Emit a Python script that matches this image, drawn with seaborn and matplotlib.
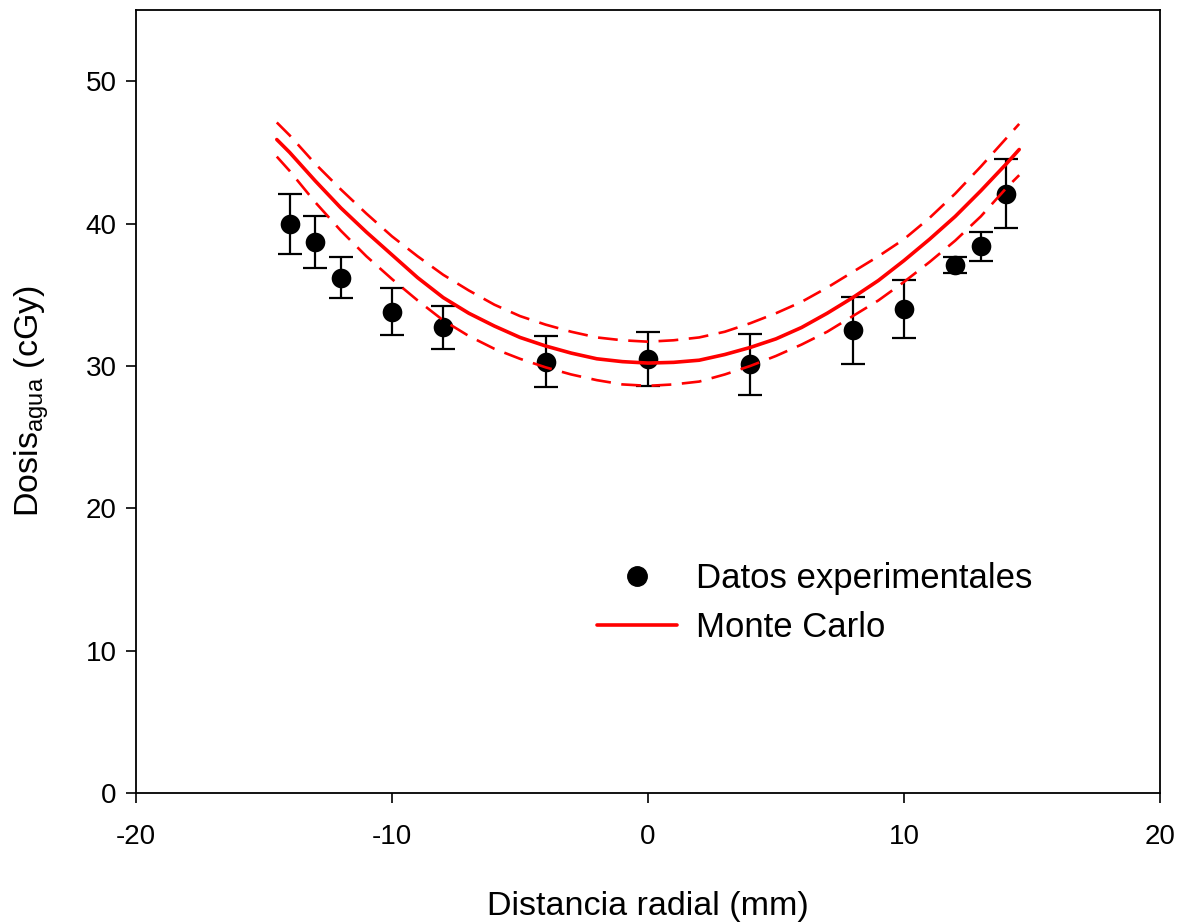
import numpy as np
import pandas as pd
import matplotlib
matplotlib.use("Agg")
import matplotlib.pyplot as plt
from matplotlib.lines import Line2D
import seaborn as sns

# experimental points (distance mm, dose cGy, error)
exp_x = [-14, -13, -12, -10, -8, -4, 0, 4, 8, 10, 12, 13, 14]
exp_y = [39.95, 38.7, 36.2, 33.8, 32.7, 30.3, 30.5, 30.1, 32.5, 34.0, 37.1, 38.4, 42.1]
exp_err = [2.1, 1.85, 1.45, 1.65, 1.5, 1.8, 1.9, 2.15, 2.35, 2.05, 0.55, 1.0, 2.4]

# Monte Carlo curve and its uncertainty band, read every 1 mm
mc_x = [-14.5, -14, -13, -12, -11, -10, -9, -8, -7, -6, -5, -4, -3, -2, -1, 0,
        1, 2, 3, 4, 5, 6, 7, 8, 9, 10, 11, 12, 13, 14, 14.5]
mc_y = [45.9, 45.0, 43.0, 41.1, 39.4, 37.8, 36.2, 34.8, 33.7, 32.8, 32.0, 31.4, 30.9, 30.5, 30.3, 30.2,
        30.25, 30.4, 30.8, 31.3, 31.9, 32.7, 33.7, 34.8, 36.0, 37.4, 38.9, 40.5, 42.3, 44.2, 45.2]
mc_up = [47.1, 46.2, 44.2, 42.4, 40.7, 39.1, 37.7, 36.4, 35.3, 34.3, 33.5, 32.9, 32.4, 32.0, 31.8, 31.7,
         31.8, 32.0, 32.4, 33.0, 33.7, 34.5, 35.5, 36.6, 37.7, 38.9, 40.4, 42.1, 44.0, 46.0, 47.0]
mc_low = [44.7, 43.7, 41.5, 39.5, 37.7, 36.1, 34.6, 33.2, 32.1, 31.2, 30.5, 29.9, 29.4, 29.0, 28.7, 28.6,
          28.7, 28.9, 29.4, 30.0, 30.7, 31.5, 32.4, 33.5, 34.6, 35.9, 37.3, 38.8, 40.5, 42.5, 43.4]

sns.set_style("ticks")
plt.rcParams['font.family'] = ['Liberation Sans', 'DejaVu Sans']
plt.rcParams['axes.unicode_minus'] = False
for k in ['text.color', 'axes.labelcolor', 'xtick.color', 'ytick.color', 'axes.edgecolor']:
    plt.rcParams[k] = 'black'

fig = plt.figure(figsize=(11.85, 9.23), dpi=100)
ax = fig.add_axes([136 / 1185, 1 - 793 / 923, 1024 / 1185, 783 / 923])

df_exp = pd.DataFrame({"x": exp_x, "y": exp_y, "err": exp_err})
df_mc = pd.DataFrame({"x": mc_x, "y": mc_y, "up": mc_up, "low": mc_low})

ax.errorbar(df_exp["x"], df_exp["y"], yerr=df_exp["err"], fmt="none",
            ecolor="black", elinewidth=1.6, capsize=8.5, capthick=1.6, zorder=2)
sns.scatterplot(data=df_exp, x="x", y="y", ax=ax, color="black", s=200,
                edgecolor="black", linewidth=0, zorder=3, legend=False)

sns.lineplot(data=df_mc, x="x", y="y", ax=ax, color="red", linewidth=2.6,
             sort=False, zorder=4)
for col in ["up", "low"]:
    sns.lineplot(data=df_mc, x="x", y=col, ax=ax, color="red", linewidth=1.9,
                 sort=False, zorder=4)
for line in ax.get_lines()[-2:]:
    line.set_dashes([7.5, 4])

ax.set_xlim(-20, 20)
ax.set_ylim(0, 55)
ax.set_xticks([-20, -10, 0, 10, 20])
ax.set_yticks([0, 10, 20, 30, 40, 50])
ax.tick_params(axis="both", labelsize=20, length=7, width=1.2, direction="out")
ax.tick_params(axis="y", pad=7)
ax.tick_params(axis="x", pad=15)
for s in ax.spines.values():
    s.set_linewidth(1.3)

ax.set_xlabel("Distancia radial (mm)", fontsize=24.5, labelpad=30)
ax.set_ylabel(r"Dosis$_{\mathregular{agua}}$ (cGy)", fontsize=24.5, labelpad=25)

handles = [
    Line2D([], [], marker="o", color="black", linestyle="none", markersize=14),
    Line2D([], [], color="red", linewidth=2.6),
]
ax.legend(handles, ["Datos experimentales", "Monte Carlo"], loc="center left",
          bbox_to_anchor=(597 / 1185, 1 - 603 / 923), bbox_transform=fig.transFigure,
          frameon=False, fontsize=25, handlelength=2.3, handletextpad=0.55,
          labelspacing=0.45, borderpad=0, borderaxespad=0)

fig.savefig("out.png", dpi=100)
